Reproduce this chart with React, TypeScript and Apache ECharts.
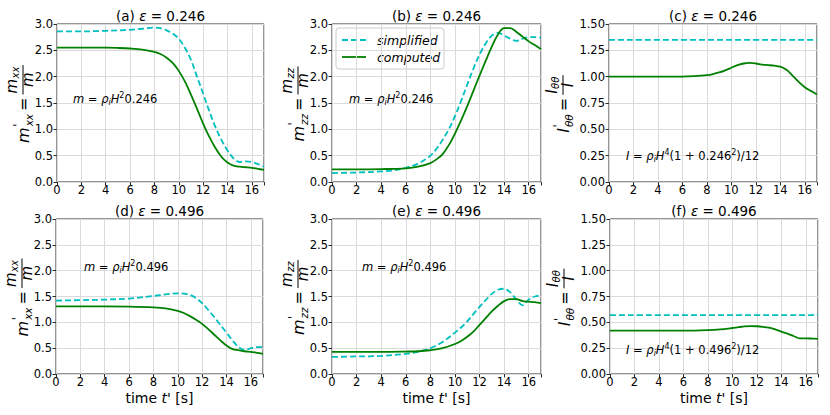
import React, { useEffect, useRef } from "react";
import * as echarts from "echarts";

const FONT = "DejaVu Sans";
const CYAN = "#00bfbf";
const GREEN = "#008000";

// ---------- data (time t' [s], values) ----------
const epsTop = "0.246";
const epsBottom = "0.496";

// (a) m'_xx, eps = 0.246
const tA_sim = [0, 2, 4, 6, 7, 8, 8.5, 9, 9.5, 10, 10.5, 11, 11.5, 12, 12.5, 13, 13.5, 14, 14.5, 15, 15.5, 16, 16.5, 17];
const vA_sim = [2.86, 2.86, 2.87, 2.89, 2.91, 2.93, 2.92, 2.88, 2.82, 2.72, 2.55, 2.32, 2.0, 1.68, 1.35, 1.05, 0.8, 0.6, 0.45, 0.38, 0.39, 0.38, 0.34, 0.29];
const tA_comp = [0, 2, 4, 5, 6, 7, 8, 8.5, 9, 9.5, 10, 10.5, 11, 11.5, 12, 12.5, 13, 13.5, 14, 14.5, 15, 15.5, 16, 16.5, 17];
const vA_comp = [2.55, 2.55, 2.55, 2.545, 2.535, 2.515, 2.47, 2.43, 2.36, 2.26, 2.11, 1.91, 1.66, 1.39, 1.11, 0.86, 0.65, 0.48, 0.37, 0.31, 0.29, 0.28, 0.27, 0.25, 0.23];

// (b) m'_zz, eps = 0.246
const tB_sim = [0, 2, 4, 5, 6, 7, 8, 8.5, 9, 9.5, 10, 10.5, 11, 11.5, 12, 12.5, 13, 13.5, 14, 14.5, 15, 15.5, 16, 16.5, 17];
const vB_sim = [0.17, 0.18, 0.2, 0.22, 0.27, 0.35, 0.5, 0.63, 0.8, 1.0, 1.25, 1.54, 1.85, 2.15, 2.42, 2.63, 2.78, 2.83, 2.78, 2.72, 2.68, 2.72, 2.75, 2.75, 2.74];
const tB_comp = [0, 2, 4, 6, 7, 8, 8.5, 9, 9.5, 10, 10.5, 11, 11.5, 12, 12.5, 13, 13.5, 14, 14.5, 15, 15.5, 16, 16.5, 17];
const vB_comp = [0.24, 0.24, 0.245, 0.26, 0.29, 0.36, 0.43, 0.53, 0.7, 0.92, 1.17, 1.44, 1.73, 2.02, 2.3, 2.57, 2.8, 2.92, 2.92, 2.85, 2.76, 2.67, 2.6, 2.52];

// (c) I'_thetatheta, eps = 0.246
const tC_sim = [0, 17];
const vC_sim = [1.35, 1.35];
const tC_comp = [0, 2, 4, 6, 7, 8, 8.5, 9, 9.5, 10, 10.5, 11, 11.5, 12, 12.5, 13, 13.5, 14, 14.5, 15, 15.5, 16, 16.5, 17];
const vC_comp = [1.0, 1.0, 1.0, 1.0, 1.005, 1.015, 1.025, 1.04, 1.06, 1.085, 1.11, 1.125, 1.13, 1.125, 1.115, 1.11, 1.105, 1.095, 1.065, 1.01, 0.95, 0.9, 0.865, 0.83];

// (d) m'_xx, eps = 0.496
const tD_sim = [0, 2, 4, 6, 8, 9, 10, 10.5, 11, 11.5, 12, 12.5, 13, 13.5, 14, 14.5, 15, 15.5, 16, 16.5, 17];
const vD_sim = [1.42, 1.43, 1.44, 1.46, 1.51, 1.54, 1.56, 1.555, 1.53, 1.47, 1.37, 1.24, 1.1, 0.95, 0.8, 0.65, 0.52, 0.46, 0.5, 0.52, 0.52];
const tD_comp = [0, 2, 4, 6, 8, 9, 10, 10.5, 11, 11.5, 12, 12.5, 13, 13.5, 14, 14.5, 15, 15.5, 16, 16.5, 17];
const vD_comp = [1.31, 1.31, 1.31, 1.305, 1.29, 1.27, 1.22, 1.18, 1.12, 1.05, 0.97, 0.87, 0.76, 0.65, 0.55, 0.48, 0.46, 0.44, 0.43, 0.41, 0.39];

// (e) m'_zz, eps = 0.496
const tE_sim = [0, 2, 4, 6, 7, 8, 9, 10, 10.5, 11, 11.5, 12, 12.5, 13, 13.5, 14, 14.5, 15, 15.5, 16, 16.5, 17];
const vE_sim = [0.33, 0.34, 0.35, 0.39, 0.43, 0.5, 0.62, 0.8, 0.9, 1.02, 1.16, 1.3, 1.43, 1.55, 1.63, 1.65, 1.58, 1.44, 1.33, 1.44, 1.5, 1.52];
const tE_comp = [0, 2, 4, 6, 7, 8, 9, 10, 10.5, 11, 11.5, 12, 12.5, 13, 13.5, 14, 14.5, 15, 15.5, 16, 16.5, 17];
const vE_comp = [0.43, 0.43, 0.43, 0.435, 0.44, 0.46, 0.5, 0.58, 0.64, 0.72, 0.82, 0.95, 1.08, 1.21, 1.32, 1.41, 1.45, 1.45, 1.41, 1.4, 1.39, 1.37];

// (f) I'_thetatheta, eps = 0.496
const tF_sim = [0, 17];
const vF_sim = [0.57, 0.57];
const tF_comp = [0, 2, 4, 6, 8, 9, 10, 10.5, 11, 11.5, 12, 12.5, 13, 13.5, 14, 14.5, 15, 15.5, 16, 16.5, 17];
const vF_comp = [0.42, 0.42, 0.42, 0.42, 0.425, 0.432, 0.445, 0.453, 0.46, 0.463, 0.462, 0.457, 0.448, 0.432, 0.41, 0.39, 0.368, 0.345, 0.345, 0.343, 0.34];

const seriesNames = ["simplified", "computed"];

// ---------- layout ----------
type Panel = {
  letter: string;
  eps: string;
  left: number;
  top: number;
  width: number;
  height: number;
  ymax: number;
  yint: number;
  ydec: number;
  sim: [number[], number[]];
  comp: [number[], number[]];
  sym: string;
  sub: string;
  ann: string;
  annX: number;
  annY: number;
  labOff: number;
  xName: boolean;
};

const mAnn = (e: string) => `{i|m} = {i|ρ}{s|i}{i|H}{p|2}${e}`;
const iAnn = (e: string) => `{i|I} = {i|ρ}{s|i}{i|H}{p|4}(1 + ${e}{p|2})/12`;
const ANN_SIZE = 11.5;

const panels: Panel[] = [
  { letter: "a", eps: epsTop, left: 57, top: 24, width: 207, height: 158, ymax: 3, yint: 0.5, ydec: 1, sim: [tA_sim, vA_sim], comp: [tA_comp, vA_comp], sym: "m", sub: "xx", ann: mAnn(epsTop), annX: 73, annY: 99, labOff: 34, xName: false },
  { letter: "b", eps: epsTop, left: 332, top: 24, width: 209, height: 158, ymax: 3, yint: 0.5, ydec: 1, sim: [tB_sim, vB_sim], comp: [tB_comp, vB_comp], sym: "m", sub: "zz", ann: mAnn(epsTop), annX: 349, annY: 99, labOff: 34, xName: false },
  { letter: "c", eps: epsTop, left: 609, top: 24, width: 208, height: 158, ymax: 1.5, yint: 0.25, ydec: 2, sim: [tC_sim, vC_sim], comp: [tC_comp, vC_comp], sym: "I", sub: "θθ", ann: iAnn(epsTop), annX: 626, annY: 156, labOff: 46, xName: false },
  { letter: "d", eps: epsBottom, left: 56, top: 219, width: 207, height: 155, ymax: 3, yint: 0.5, ydec: 1, sim: [tD_sim, vD_sim], comp: [tD_comp, vD_comp], sym: "m", sub: "xx", ann: mAnn(epsBottom), annX: 84, annY: 267, labOff: 34, xName: true },
  { letter: "e", eps: epsBottom, left: 332, top: 219, width: 209, height: 155, ymax: 3, yint: 0.5, ydec: 1, sim: [tE_sim, vE_sim], comp: [tE_comp, vE_comp], sym: "m", sub: "zz", ann: mAnn(epsBottom), annX: 362, annY: 267, labOff: 34, xName: true },
  { letter: "f", eps: epsBottom, left: 610, top: 219, width: 208, height: 155, ymax: 1.5, yint: 0.25, ydec: 2, sim: [tF_sim, vF_sim], comp: [tF_comp, vF_comp], sym: "I", sub: "θθ", ann: iAnn(epsBottom), annX: 626, annY: 350, labOff: 46, xName: true },
];

const ADV: Record<string, number> = { m: 0.974, x: 0.592, z: 0.525, I: 0.295, "θ": 0.612, "=": 0.838 };
const tw = (s: string, size: number) => [...s].reduce((a, c) => a + (ADV[c] ?? 0.6) * size, 0);

function txt(x: number, y: number, text: string, size: number, italic: boolean, align = "left") {
  return {
    type: "text",
    x,
    y,
    style: {
      text,
      fontSize: size,
      fontFamily: FONT,
      fontStyle: italic ? "italic" : "normal",
      fill: "#000",
      textAlign: align,
      textVerticalAlign: "middle",
      align,
      verticalAlign: "middle",
    },
  };
}

function yLabel(cx: number, cy: number, sym: string, sub: string) {
  const M = 16, S = 10.5, F = 15, FS = 10;
  const w1 = tw(sym, M);
  const subW = tw(sub, S);
  const end1 = Math.max(w1 + 4, w1 + 1 + subW);
  const eqX = end1 + 3;
  const eqW = tw("=", M);
  const fs = eqX + eqW + 3;
  const numW = tw(sym, F) + 1 + tw(sub, FS);
  const denW = tw(sym, F);
  const fw = Math.max(numW, denW) + 2;
  const L = fs + fw;
  const o = -L / 2;
  const numStart = fs + (fw - numW) / 2;
  const children: any[] = [
    txt(o, 0, sym, M, true),
    txt(o + w1 + 0.5, -5.5, "'", 11.5, true),
    txt(o + w1 + 1, 6, sub, S, true),
    txt(o + eqX, 0, "=", M, false),
    txt(o + numStart, -11.5, sym, F, true),
    txt(o + numStart + tw(sym, F) + 0.5, -8, sub, FS, true),
    {
      type: "line",
      shape: { x1: o + fs, y1: 0, x2: o + fs + fw, y2: 0 },
      style: { stroke: "#000", lineWidth: 1 },
    },
    txt(o + fs + fw / 2, 5, sym, F, true, "center"),
  ];
  return { type: "group", x: cx, y: cy, rotation: Math.PI / 2, children };
}

const pairs = (t: number[], v: number[]) => t.map((x, i) => [x, v[i]]);

function legendGraphic() {
  const x0 = 336, y0 = 28, w = 108, h = 41;
  const r1 = y0 + 12, r2 = y0 + 29;
  return {
    type: "group",
    z: 20,
    children: [
      { type: "rect", shape: { x: x0, y: y0, width: w, height: h, r: 3 }, style: { fill: "rgba(255,255,255,0.85)", stroke: "#cccccc", lineWidth: 1 } },
      { type: "line", shape: { x1: x0 + 6, y1: r1, x2: x0 + 30, y2: r1 }, style: { stroke: CYAN, lineWidth: 1.8, lineDash: [6, 3] } },
      { type: "line", shape: { x1: x0 + 6, y1: r2, x2: x0 + 30, y2: r2 }, style: { stroke: GREEN, lineWidth: 1.8 } },
      txt(x0 + 41, r1, seriesNames[0], 12.5, true),
      txt(x0 + 41, r2, seriesNames[1], 12.5, true),
    ],
  };
}

function buildOption() {
  const grid: any[] = [];
  const xAxis: any[] = [];
  const yAxis: any[] = [];
  const series: any[] = [];
  const graphic: any[] = [];

  panels.forEach((p, i) => {
    grid.push({
      left: p.left,
      top: p.top,
      width: p.width,
      height: p.height,
      show: true,
      borderColor: "#2a2a2a",
      borderWidth: 1,
      backgroundColor: "transparent",
    });
    xAxis.push({
      type: "value",
      gridIndex: i,
      min: 0,
      max: 17,
      interval: 2,
      axisLine: { show: false },
      axisTick: { show: true, inside: false, length: 3.5, lineStyle: { color: "#2a2a2a" } },
      axisLabel: {
        show: true,
        margin: 2,
        fontSize: 11.5,
        fontFamily: FONT,
        color: "#000",
        formatter: (v: number) => (v % 2 === 0 ? String(v) : ""),
      },
      splitLine: { show: true, lineStyle: { color: "#dadada", width: 1 } },
    });
    yAxis.push({
      type: "value",
      gridIndex: i,
      min: 0,
      max: p.ymax,
      interval: p.yint,
      axisLine: { show: false },
      axisTick: { show: true, inside: false, length: 3.5, lineStyle: { color: "#2a2a2a" } },
      axisLabel: {
        show: true,
        margin: 4,
        fontSize: 11.5,
        fontFamily: FONT,
        color: "#000",
        formatter: (v: number) => v.toFixed(p.ydec),
      },
      splitLine: { show: true, lineStyle: { color: "#dadada", width: 1 } },
    });
    series.push({
      name: seriesNames[0],
      type: "line",
      xAxisIndex: i,
      yAxisIndex: i,
      data: pairs(p.sim[0], p.sim[1]),
      symbol: "none",
      smooth: 0.35,
      lineStyle: { color: CYAN, width: 1.8, type: [6, 3] },
      itemStyle: { color: CYAN },
      z: 3,
    });
    series.push({
      name: seriesNames[1],
      type: "line",
      xAxisIndex: i,
      yAxisIndex: i,
      data: pairs(p.comp[0], p.comp[1]),
      symbol: "none",
      smooth: 0.35,
      lineStyle: { color: GREEN, width: 1.8, type: "solid" },
      itemStyle: { color: GREEN },
      z: 4,
    });

    graphic.push({
      type: "text",
      x: p.left + p.width / 2,
      y: p.top - 8,
      style: {
        text: `(${p.letter}) {i|ε} = ${p.eps}`,
        fontSize: 13.5,
        fontFamily: FONT,
        fill: "#000",
        textAlign: "center",
        textVerticalAlign: "middle",
        align: "center",
        verticalAlign: "middle",
        rich: { i: { fontStyle: "italic", fontSize: 13.5, fontFamily: FONT } },
      },
    });
    graphic.push(yLabel(p.left - p.labOff, p.top + p.height / 2 + 1, p.sym, p.sub));
    graphic.push({
      type: "text",
      x: p.annX,
      y: p.annY,
      z: 10,
      style: {
        text: p.ann,
        fontSize: ANN_SIZE,
        fontFamily: FONT,
        fill: "#000",
        textAlign: "left",
        textVerticalAlign: "middle",
        align: "left",
        verticalAlign: "middle",
        lineHeight: 15,
        rich: {
          i: { fontStyle: "italic", fontSize: ANN_SIZE, fontFamily: FONT, lineHeight: 15, verticalAlign: "middle" },
          s: { fontStyle: "italic", fontSize: 8, fontFamily: FONT, lineHeight: 15, verticalAlign: "bottom" },
          p: { fontSize: 8, fontFamily: FONT, lineHeight: 15, verticalAlign: "top" },
        },
      },
    });
    if (p.xName) {
      graphic.push({
        type: "text",
        x: p.left + p.width / 2,
        y: p.top + p.height + 24,
        style: {
          text: "time {i|t}' [s]",
          fontSize: 14,
          fontFamily: FONT,
          fill: "#000",
          textAlign: "center",
          textVerticalAlign: "middle",
          align: "center",
          verticalAlign: "middle",
          rich: { i: { fontStyle: "italic", fontSize: 14, fontFamily: FONT } },
        },
      });
    }
  });

  graphic.push(legendGraphic());

  return {
    animation: false,
    backgroundColor: "#fff",
    grid,
    xAxis,
    yAxis,
    series,
    graphic,
  };
}

export default function App() {
  const ref = useRef<HTMLDivElement>(null);
  useEffect(() => {
    document.body.style.margin = "0";
    if (!ref.current) return;
    const chart = echarts.init(ref.current, undefined, { renderer: "svg" });
    chart.setOption(buildOption() as any);
    return () => chart.dispose();
  }, []);
  return <div ref={ref} style={{ position: "absolute", left: 0, top: 0, width: 830, height: 415 }} />;
}
